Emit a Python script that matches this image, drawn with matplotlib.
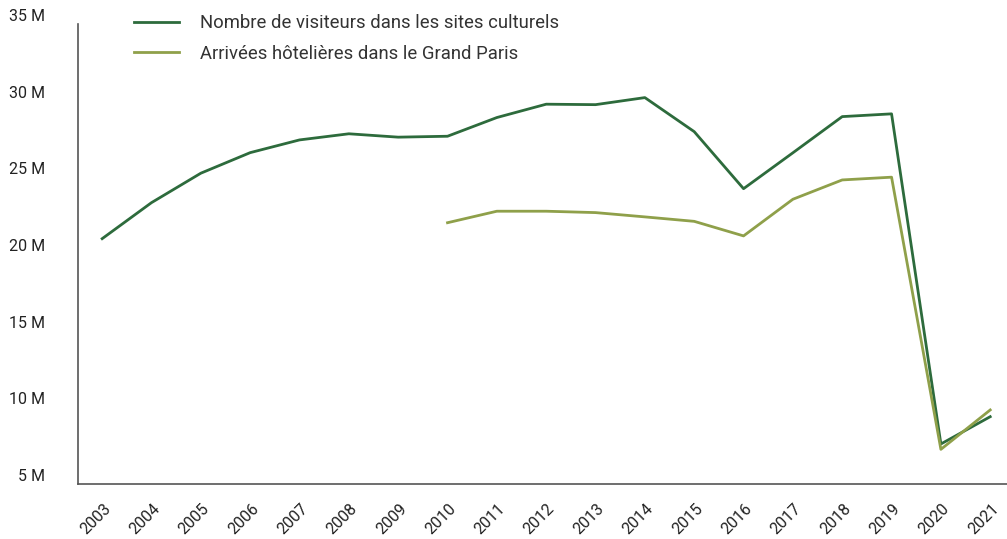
import numpy as np
import matplotlib.pyplot as plt
import matplotlib.transforms as mtransforms

plt.rcParams['font.family'] = ['Roboto', 'DejaVu Sans']

years = list(range(2003, 2022))
visiteurs = [21.0, 23.35, 25.27, 26.61, 27.44, 27.84, 27.62, 27.68, 28.90, 29.77,
             29.74, 30.20, 27.98, 24.26, 26.60, 28.96, 29.14, 7.61, 9.39]
hotel_years = list(range(2010, 2022))
hotel = [22.04, 22.79, 22.79, 22.70, 22.42, 22.13, 21.18, 23.57, 24.83, 25.01, 7.26, 9.83]

c_vis = '#2d6b3c'
c_hot = '#8fa04a'

fig = plt.figure(figsize=(10.07, 5.39), dpi=100)
ax = fig.add_axes([78/1007, 1 - 484/539, 1 - 78/1007, 460/539])

ax.plot(years, visiteurs, color=c_vis, linewidth=2.0, label='Nombre de visiteurs dans les sites culturels')
ax.plot(hotel_years, hotel, color=c_hot, linewidth=2.0, label='Arrivées hôtelières dans le Grand Paris')

ax.set_xlim(2002.51, 2021.34)
ax.set_ylim(5, 35)
ax.set_yticks([5, 10, 15, 20, 25, 30, 35])
ax.set_yticklabels([f'{v} M' for v in [5, 10, 15, 20, 25, 30, 35]])
ax.set_xticks(years)
ax.set_xticklabels([str(y) for y in years], rotation=45, ha='right', va='center',
                   rotation_mode='anchor')

for s in ['top', 'right']:
    ax.spines[s].set_visible(False)
for s in ['left', 'bottom']:
    ax.spines[s].set_color('#555555')
    ax.spines[s].set_linewidth(1.2)

ax.tick_params(axis='y', length=0, pad=24, labelsize=11.5, labelcolor='#222222')
ax.tick_params(axis='x', length=0, pad=16, labelsize=11.5, labelcolor='#222222')
for lab in ax.get_yticklabels():
    lab.set_va('bottom')
shift = mtransforms.ScaledTranslation(6/100, 0, fig.dpi_scale_trans)
for lab in ax.get_xticklabels():
    lab.set_transform(lab.get_transform() + shift)

leg = ax.legend(loc='upper left', bbox_to_anchor=(134/1007, 1 - 14/539),
                bbox_transform=fig.transFigure, frameon=False, fontsize=13.3,
                handlelength=2.45, handletextpad=1.1, labelspacing=0.68,
                borderpad=0, borderaxespad=0)
for t in leg.get_texts():
    t.set_color('#333333')

fig.savefig('out.png', dpi=100)
